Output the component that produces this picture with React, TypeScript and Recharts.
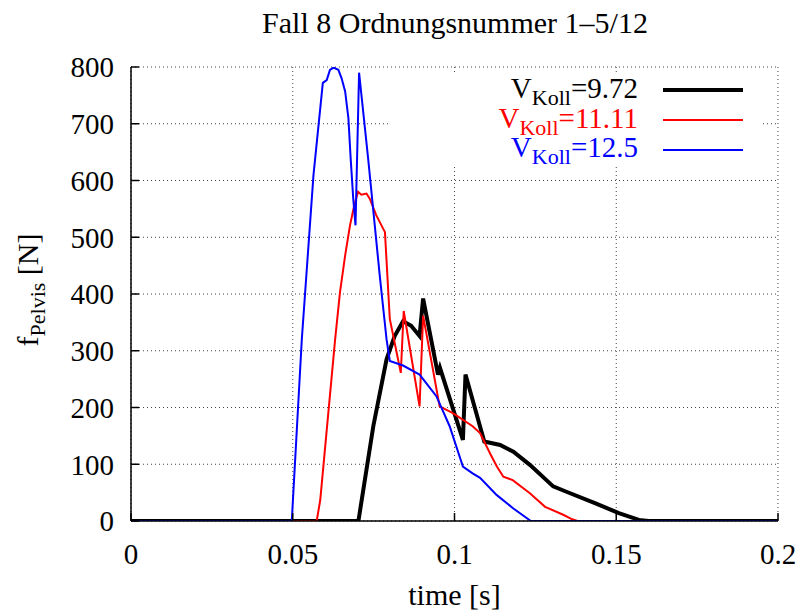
import { LineChart, Line, XAxis, YAxis, CartesianGrid, Legend } from "recharts";

// time [s] / force [N]
const blackT = [0, 0.0703, 0.0749, 0.079, 0.0815, 0.0841, 0.0866, 0.0892, 0.0903, 0.0949, 0.0955, 0.1026, 0.1034, 0.1092, 0.1141, 0.1182, 0.1233, 0.1305, 0.1344, 0.1436, 0.1508, 0.157, 0.16, 0.2];
const blackV = [0, 0, 167, 285, 326, 352, 344, 326, 392, 258, 270, 143, 258, 140, 134, 122, 99, 61, 52, 31, 14, 2, 0, 0];

const redT = [0, 0.0574, 0.0585, 0.0631, 0.0646, 0.0662, 0.0677, 0.069, 0.0702, 0.0712, 0.0728, 0.0738, 0.0758, 0.0785, 0.08, 0.0834, 0.0843, 0.0892, 0.0903, 0.0954, 0.0995, 0.1056, 0.1079, 0.111, 0.1131, 0.1151, 0.118, 0.1233, 0.128, 0.1336, 0.1364, 0.138, 0.2];
const redV = [0, 0, 37, 320, 403, 468, 521, 556, 580, 575, 577, 568, 539, 509, 356, 261, 370, 202, 362, 202, 190, 167, 155, 119, 96, 78, 72, 49, 25, 11, 3, 0, 0];

const blueT = [0, 0.0497, 0.0528, 0.0564, 0.0593, 0.0605, 0.0615, 0.0626, 0.0641, 0.0651, 0.0662, 0.0672, 0.0679, 0.0687, 0.0694, 0.0705, 0.0733, 0.0769, 0.079, 0.08, 0.0841, 0.0892, 0.0944, 0.0985, 0.1026, 0.1056, 0.1079, 0.113, 0.1182, 0.1236, 0.2];
const blueV = [0, 0, 320, 609, 772, 777, 795, 799, 795, 780, 757, 710, 639, 568, 521, 790, 639, 432, 320, 282, 274, 258, 220, 167, 96, 84, 76, 46, 22, 0, 0];

const xTicks = [0, 0.05, 0.1, 0.15, 0.2];
const yTicks = [0, 100, 200, 300, 400, 500, 600, 700, 800];

const seriesNames = ["9.72", "11.11", "12.5"];
const seriesColors = ["#000000", "#ff0000", "#0000ff"];
const seriesWidths = [4, 2, 2];

const zip = (t: number[], v: number[]) => t.map((x, i) => ({ t: x, v: v[i] }));
const seriesData = [zip(blackT, blackV), zip(redT, redV), zip(blueT, blueV)];

const FONT = "'Liberation Serif', 'Times New Roman', serif";
const tickStyle = { fill: "#000", fontSize: 29, fontFamily: FONT };
const axisLine = { stroke: "#000", strokeWidth: 1.5 };
const tickLine = { stroke: "#000", strokeWidth: 1.5 };

function KeyBox() {
  return (
    <svg width={371} height={92} style={{ display: "block", overflow: "visible", fontFamily: FONT }}>
      {seriesNames.map((name, i) => (
        <g key={name}>
          <text x={247} y={23 + i * 29.5} textAnchor="end" fill={seriesColors[i]} fontSize={29}>
            V<tspan fontSize={22} dy={7}>Koll</tspan>
            <tspan dy={-7}>={name}</tspan>
          </text>
          <line x1={272} x2={352} y1={15 + i * 30} y2={15 + i * 30} stroke={seriesColors[i]} strokeWidth={seriesWidths[i]} />
        </g>
      ))}
    </svg>
  );
}

function YLabel() {
  return (
    <text transform="translate(38, 290) rotate(-90)" textAnchor="middle" fontSize={30} fontFamily={FONT} fill="#000">
      f<tspan fontSize={22} dy={7}>Pelvis</tspan>
      <tspan dy={-7}> [N]</tspan>
    </text>
  );
}

function XLabel(props: any) {
  const { viewBox } = props;
  return (
    <text x={viewBox.x + viewBox.width / 2} y={viewBox.y + 84} textAnchor="middle" fontSize={30} fontFamily={FONT} fill="#000">
      time [s]
    </text>
  );
}

export default function App() {
  return (
    <div style={{ position: "absolute", left: 0, top: 0, width: 800, height: 616, background: "#fff", fontFamily: FONT }}>
      <div style={{ position: "absolute", left: 0, width: 910, top: 8, textAlign: "center", fontSize: 30, lineHeight: "30px", color: "#000" }}>
        Fall 8 Ordnungsnummer 1–5/12
      </div>
      <LineChart width={800} height={616} margin={{ top: 67, right: 22, bottom: 0, left: 0 }}>
        <CartesianGrid stroke="#444" strokeDasharray="1 3" />
        <XAxis
          xAxisId={0}
          type="number"
          dataKey="t"
          domain={[0, 0.2]}
          ticks={xTicks}
          allowDataOverflow
          height={95}
          tick={tickStyle}
          tickSize={-8}
          tickMargin={30}
          axisLine={axisLine}
          tickLine={tickLine}
          label={<XLabel />}
        />
        <XAxis
          xAxisId="top"
          orientation="top"
          type="number"
          domain={[0, 0.2]}
          ticks={xTicks}
          allowDataOverflow
          height={0}
          tickFormatter={() => ""}
          tickSize={-8}
          axisLine={axisLine}
          tickLine={tickLine}
        />
        <YAxis
          yAxisId={0}
          type="number"
          domain={[0, 800]}
          ticks={yTicks}
          allowDataOverflow
          width={131}
          tick={tickStyle}
          tickSize={-8}
          tickMargin={25}
          axisLine={axisLine}
          tickLine={tickLine}
          label={<YLabel />}
        />
        <YAxis
          yAxisId="right"
          orientation="right"
          type="number"
          domain={[0, 800]}
          ticks={yTicks}
          allowDataOverflow
          width={0}
          tickFormatter={() => ""}
          tickSize={-8}
          axisLine={axisLine}
          tickLine={tickLine}
        />
        <Legend
          layout="horizontal"
          verticalAlign="middle"
          align="center"
          content={<KeyBox />}
          wrapperStyle={{ position: "absolute", left: 391, top: 75, width: 371, height: 92, background: "#fff" }}
        />
        {seriesData.map((d, i) => (
          <Line
            key={seriesNames[i]}
            data={d}
            dataKey="v"
            type="linear"
            stroke={seriesColors[i]}
            strokeWidth={seriesWidths[i]}
            dot={false}
            activeDot={false}
            isAnimationActive={false}
            strokeLinejoin="miter"
          />
        ))}
      </LineChart>
    </div>
  );
}
